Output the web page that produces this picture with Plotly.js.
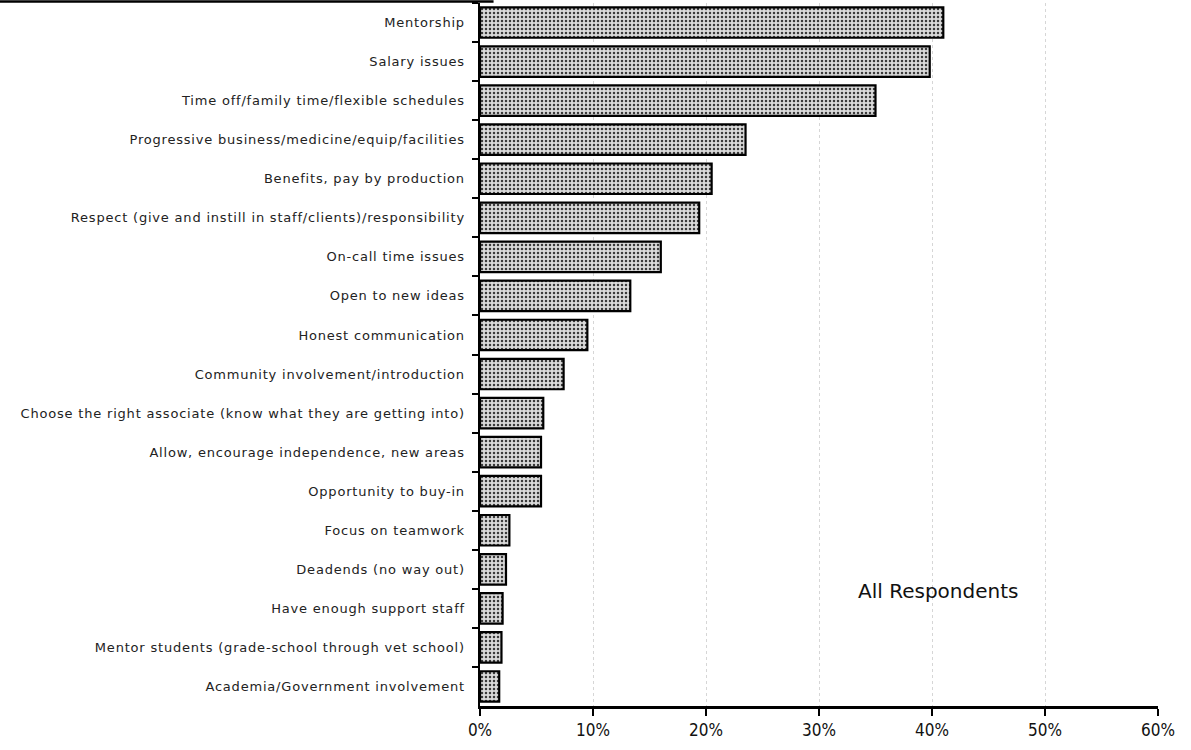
<!DOCTYPE html>
<html>
<head>
<meta charset="utf-8">
<script src="https://cdn.plot.ly/plotly-3.0.1.min.js"></script>
<style>
  html, body { margin: 0; padding: 0; background: #ffffff; }
  #chart { width: 1191px; height: 750px; }
  #chart .ytick text { letter-spacing: 0.8px; }
</style>
</head>
<body>
<div id="chart"></div>
<script>
const categories = [
  "Mentorship",
  "Salary issues",
  "Time off/family time/flexible schedules",
  "Progressive business/medicine/equip/facilities",
  "Benefits, pay by production",
  "Respect (give and instill in staff/clients)/responsibility",
  "On-call time issues",
  "Open to new ideas",
  "Honest communication",
  "Community involvement/introduction",
  "Choose the right associate (know what they are getting into)",
  "Allow, encourage independence, new areas",
  "Opportunity to buy-in",
  "Focus on teamwork",
  "Deadends (no way out)",
  "Have enough support staff",
  "Mentor students (grade-school through vet school)",
  "Academia/Government involvement"
];
const values = [41.0, 39.8, 35.0, 23.5, 20.5, 19.4, 16.0, 13.3, 9.5, 7.4, 5.6, 5.4, 5.4, 2.6, 2.3, 2.0, 1.9, 1.7];
const xTickVals = [0, 10, 20, 30, 40, 50, 60];
const xTickText = ["0%", "10%", "20%", "30%", "40%", "50%", "60%"];
const annotationText = "All Respondents";

const trace = {
  type: "bar",
  orientation: "h",
  y: categories,
  x: values,
  marker: {
    color: "#cfcfcf",
    line: { color: "#000000", width: 2.2 },
    pattern: { shape: ".", fgcolor: "#3a3a3a", bgcolor: "#dadada", size: 4, solidity: 0.3 }
  },
  hoverinfo: "x+y"
};

const layout = {
  width: 1191,
  height: 750,
  margin: { l: 480, r: 33, t: 3, b: 44 },
  paper_bgcolor: "#ffffff",
  plot_bgcolor: "#ffffff",
  showlegend: false,
  bargap: 0.22,
  font: { family: "DejaVu Sans, sans-serif", color: "#000000" },
  xaxis: {
    range: [0, 60],
    tickvals: xTickVals,
    ticktext: xTickText,
    tickfont: { size: 17, family: "DejaVu Sans Condensed, DejaVu Sans, sans-serif", color: "#111111" },
    showline: true,
    linecolor: "#000000",
    linewidth: 2.5,
    ticks: "outside",
    ticklen: 7,
    tickwidth: 2,
    tickcolor: "#000000",
    showgrid: true,
    gridcolor: "#d6d6d6",
    griddash: "dot",
    gridwidth: 1,
    zeroline: false,
    fixedrange: true
  },
  yaxis: {
    autorange: "reversed",
    type: "category",
    tickfont: { size: 13, family: "DejaVu Sans, sans-serif", color: "#222222" },
    showline: true,
    linecolor: "#000000",
    linewidth: 2.5,
    ticks: "outside",
    tickson: "boundaries",
    ticklen: 6,
    tickwidth: 2,
    tickcolor: "#000000",
    ticklabelstandoff: 10,
    showgrid: false,
    zeroline: false,
    fixedrange: true
  },
  annotations: [{
    text: annotationText,
    xref: "x",
    yref: "paper",
    x: 40.5,
    y: 0.143,
    showarrow: false,
    font: { size: 20, family: "DejaVu Sans, sans-serif", color: "#111111" }
  }],
  shapes: [{
    type: "line",
    xref: "paper",
    yref: "paper",
    x0: -0.72, x1: 0.02,
    y0: 1.002, y1: 1.002,
    line: { color: "#000000", width: 2.5 }
  }]
};

Plotly.newPlot("chart", [trace], layout, { displayModeBar: false, staticPlot: true });
</script>
</body>
</html>
